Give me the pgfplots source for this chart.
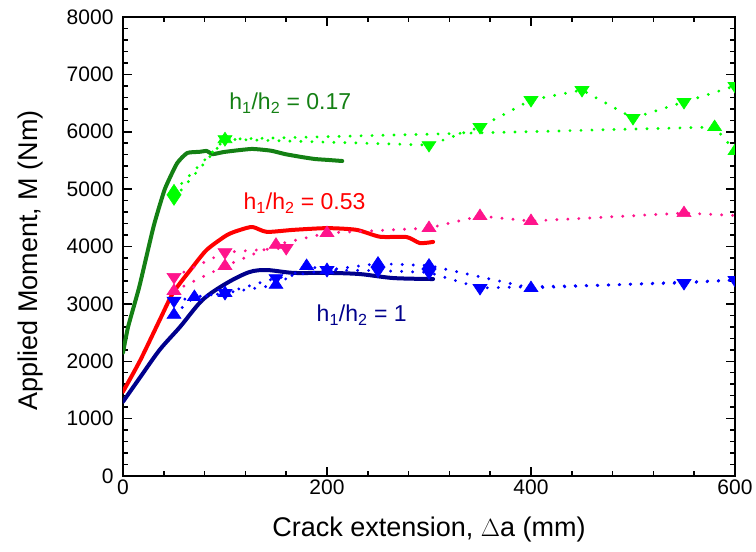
\documentclass[border=0pt]{standalone}
\usepackage{fontspec}
\setmainfont{Liberation Sans}
\usepackage{pgfplots}
\pgfplotsset{compat=1.18}
\definecolor{dgreen}{RGB}{20,128,20}
\definecolor{lgreen}{RGB}{0,255,0}
\definecolor{myred}{RGB}{255,0,0}
\definecolor{mypink}{RGB}{255,20,140}
\definecolor{mynavy}{RGB}{0,0,140}
\definecolor{myblue}{RGB}{0,0,255}
\pgfplotsset{
  solidc/.style={line width=4pt, line join=round, line cap=round, no marks},
  dotc/.style={line width=3.2pt, line cap=round, dash pattern=on 0pt off 11pt, #1,
     mark options={solid, fill=#1, draw=#1, line width=0.6pt, xscale=1.15}},
  up/.style={mark=triangle*, mark size=7pt},
  down/.style={mark=triangle*, mark size=7pt, every mark/.append style={rotate=180}},
}
\begin{document}
\begin{tikzpicture}
\path[use as bounding box] (-123pt,-76pt) rectangle (633pt,476pt);
\begin{axis}[
  at={(0,0)}, anchor=south west, scale only axis,
  width=612pt, height=459pt,
  xmin=0, xmax=600, ymin=0, ymax=8000,
  xtick={0,200,400,600}, ytick={0,1000,...,8000},
  minor x tick num=4, minor y tick num=4,
  tick align=inside, major tick length=9pt, minor tick length=5pt,
  axis line style={line width=1.8pt},
  every tick/.style={line width=1.5pt, black},
  scaled ticks=false,
  /pgf/number format/set thousands separator={},
  /pgf/number format/assume math mode=true,
  tick label style={font=\fontsize{21}{25}\selectfont},
  yticklabel style={xshift=-6pt},
  label style={font=\fontsize{27}{32}\selectfont},
  xlabel={Crack extension, $\Delta$a (mm)},
  ylabel={Applied Moment, M (Nm)},
  xlabel style={at={(axis description cs:0.5,-0.1176)}, anchor=center},
  ylabel style={at={(axis description cs:-0.1503,0.47)}, anchor=center},
  clip marker paths=true,
]
% solid curves
\addplot[solidc, dgreen, smooth, tension=0.3] coordinates {(0,2150)(5,2600)(16,3300)(30,4350)(41,5000)(53,5450)(63,5630)(75,5650)(82,5665)(88,5610)(100,5650)(126,5700)(145,5670)(159,5610)(175,5560)(188,5525)(200,5510)(215,5490)};
\addplot[solidc, myred, smooth, tension=0.4] coordinates {(0,1470)(17,2020)(36,2720)(49,3190)(66,3590)(82,3940)(102,4200)(115,4290)(127,4340)(141,4255)(167,4290)(200,4320)(229,4290)(252,4170)(278,4165)(291,4060)(304,4080)};
\addplot[solidc, mynavy, smooth, tension=0.5] coordinates {(0,1295)(17,1725)(36,2200)(56,2600)(78,3070)(102,3365)(124,3555)(141,3590)(167,3540)(200,3540)(232,3520)(265,3450)(304,3433)};
% green dotted
\addplot[dotc=lgreen, down] coordinates {(50,4840)(100,5870)(300,5768)(350,6082)(400,6553)(450,6727)(500,6239)(550,6518)(600,6797)};
\addplot[dotc=lgreen, up] coordinates {(50,4962)(100,5870)(580,6082)(600,5664)};
% pink dotted
\addplot[dotc=mypink, down] coordinates {(50,3470)(100,3900)(160,3973)};
\addplot[dotc=mypink, up] coordinates {(50,3225)(100,3660)(150,4030)(200,4235)(300,4322)(350,4531)(400,4444)(550,4583)(650,4500)};
% blue dotted
\addplot[dotc=myblue, down] coordinates {(50,3055)(100,3189)(150,3450)(200,3590)(250,3580)(300,3548)(350,3276)(550,3363)(600,3416)};
\addplot[dotc=myblue, up] coordinates {(50,2810)(70,3120)(100,3189)(150,3330)(180,3660)(200,3590)(250,3702)(300,3668)(400,3276)(650,3450)};
% annotations
\node[text=dgreen, font=\fontsize{23}{27}\selectfont] at (axis cs:164,6500) {h\textsubscript{1}/h\textsubscript{2} = 0.17};
\node[text=myred, font=\fontsize{23}{27}\selectfont] at (axis cs:178,4758) {h\textsubscript{1}/h\textsubscript{2} = 0.53};
\node[text=mynavy, font=\fontsize{23}{27}\selectfont] at (axis cs:234,2806) {h\textsubscript{1}/h\textsubscript{2} = 1};
\end{axis}
\end{tikzpicture}
\end{document}
